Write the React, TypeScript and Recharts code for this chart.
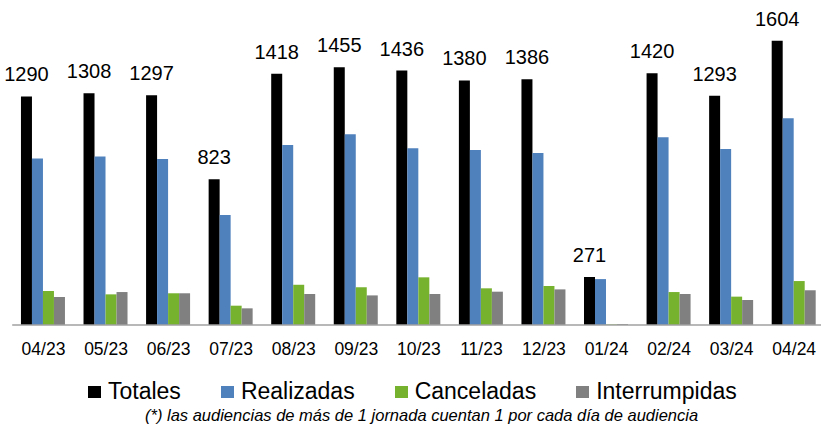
import React from "react";
import { BarChart, Bar, XAxis, YAxis, LabelList } from "recharts";

const categories = ["04/23", "05/23", "06/23", "07/23", "08/23", "09/23", "10/23", "11/23", "12/23", "01/24", "02/24", "03/24", "04/24"];
const totales = [1290, 1308, 1297, 823, 1418, 1455, 1436, 1380, 1386, 271, 1420, 1293, 1604];
const realizadas = [940, 951, 936, 620, 1015, 1077, 997, 987, 970, 259, 1059, 993, 1166];
const canceladas = [192, 173, 179, 109, 227, 213, 269, 207, 220, 3, 186, 160, 248];
const interrumpidas = [158, 186, 179, 94, 175, 167, 175, 188, 201, 5, 175, 141, 196];

const seriesNames = ["Totales", "Realizadas", "Canceladas", "Interrumpidas"];
const colors = ["#000000", "#4F81BD", "#77B22F", "#808080"];

const data = categories.map((c, i) => ({
  cat: c,
  Totales: totales[i],
  Realizadas: realizadas[i],
  Canceladas: canceladas[i],
  Interrumpidas: interrumpidas[i],
}));

const FONT = "'Liberation Sans', Arial, sans-serif";

const Tick = (props: any) => {
  const { x, y, payload } = props;
  return (
    <text x={x} y={y + 30} textAnchor="middle" fontSize={17.5} fontFamily={FONT} fill="#000">
      {payload.value}
    </text>
  );
};

const ValueLabel = (props: any) => {
  const { x, y, width, value } = props;
  return (
    <text x={x + width / 2} y={y - 15} textAnchor="middle" fontSize={20} fontFamily={FONT} fill="#000">
      {value}
    </text>
  );
};

export default function App() {
  return (
    <div style={{ position: "fixed", left: 0, top: 0, width: 821, height: 424, overflow: "hidden", background: "#fff" }}>
      <BarChart
        width={830}
        height={424}
        data={data}
        margin={{ top: 6, right: 4.5, left: 12.2, bottom: 0 }}
        barGap={0}
        barCategoryGap="14%"
      >
        <XAxis
          dataKey="cat"
          height={99}
          tickLine={false}
          tickSize={0}
          tickMargin={0}
          axisLine={{ stroke: "#a0a0a0", strokeWidth: 1.5 }}
          tick={<Tick />}
          interval={0}
        />
        <YAxis hide domain={[0, 1800]} />
        {seriesNames.map((s, i) => (
          <Bar key={s} dataKey={s} fill={colors[i]} isAnimationActive={false}>
            {i === 0 ? <LabelList dataKey={s} content={<ValueLabel />} /> : null}
          </Bar>
        ))}
      </BarChart>
      <div
        style={{
          position: "absolute",
          left: 88,
          top: 380,
          display: "flex",
          fontFamily: FONT,
          fontSize: 23,
          lineHeight: "23px",
          whiteSpace: "nowrap",
        }}
      >
        {seriesNames.map((s, i) => (
          <div key={s} style={{ display: "flex", alignItems: "center", marginRight: 40 }}>
            <div style={{ width: 13, height: 12, background: colors[i], marginRight: 7 }} />
            <span>{s}</span>
          </div>
        ))}
      </div>
      <div
        style={{
          position: "absolute",
          left: 145,
          top: 407,
          fontFamily: FONT,
          fontStyle: "italic",
          fontSize: 16.5,
          lineHeight: "16.5px",
          whiteSpace: "nowrap",
        }}
      >
        (*) las audiencias de más de 1 jornada cuentan 1 por cada día de audiencia
      </div>
    </div>
  );
}
